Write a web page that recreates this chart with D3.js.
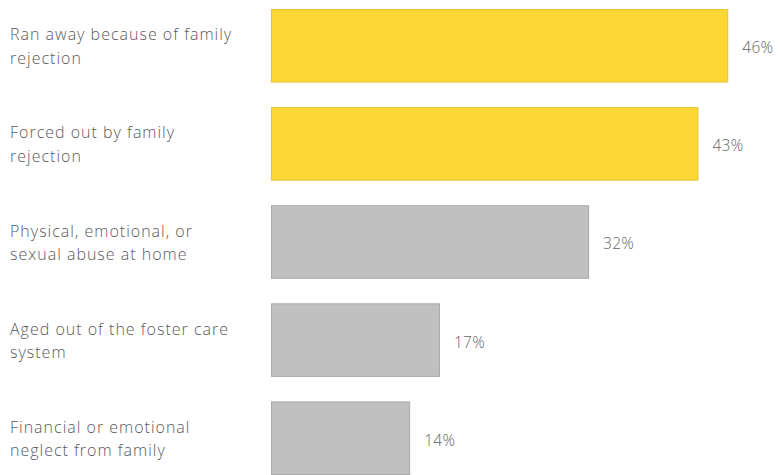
<!DOCTYPE html>
<html><head><meta charset="utf-8">
<script src="https://cdn.jsdelivr.net/npm/d3@7"></script>
<style>html,body{margin:0;padding:0;background:#fff;}</style>
</head><body>
<script>
const categories = [
  ["Ran away because of family", "rejection"],
  ["Forced out by family", "rejection"],
  ["Physical, emotional, or", "sexual abuse at home"],
  ["Aged out of the foster care", "system"],
  ["Financial or emotional", "neglect from family"]
];
const values = [46, 43, 32, 17, 14];
const highlighted = [true, true, false, false, false];

const W = 780, H = 475;
const svg = d3.select("body").append("svg").attr("width", W).attr("height", H);

const keys = categories.map((c, i) => i);
const y = d3.scaleBand().domain(keys).range([9, 475]).paddingInner(0.25).paddingOuter(0);
const x = d3.scaleLinear().domain([0, 50]).range([271, 768]);

const font = "'Open Sans', sans-serif";

svg.selectAll("rect.bar").data(values).join("rect")
  .attr("class", "bar")
  .attr("x", x(0) + 0.5)
  .attr("y", (d, i) => y(i) + 0.5)
  .attr("width", d => x(d) - x(0) - 1)
  .attr("height", y.bandwidth() - 1)
  .attr("fill", (d, i) => highlighted[i] ? "#fdd835" : "#c0c0c0")
  .attr("stroke", (d, i) => highlighted[i] ? "#e3c23a" : "#a9a9a9")
  .attr("stroke-width", 1);

svg.selectAll("text.val").data(values).join("text")
  .attr("class", "val")
  .attr("x", d => x(d) + 14)
  .attr("y", (d, i) => y(i) + y.bandwidth() / 2 + 2)
  .attr("dy", "0.35em")
  .attr("font-family", font)
  .attr("font-weight", 300)
  .attr("font-size", 15.5)
  .attr("letter-spacing", 0.3)
  .attr("fill", "#666")
  .text(d => d + "%");

const labels = svg.selectAll("text.cat").data(categories).join("text")
  .attr("class", "cat")
  .attr("font-family", font)
  .attr("font-weight", 300)
  .attr("font-size", 16)
  .attr("letter-spacing", 1)
  .attr("fill", "#5a5a5a");
labels.each(function(lines, i) {
  const t = d3.select(this);
  const cy = y(i) + y.bandwidth() / 2;
  lines.forEach((ln, j) => {
    t.append("tspan").attr("x", 10).attr("y", cy - 11 + j * 23.5).attr("dy", "0.35em").text(ln);
  });
});
</script>
</body></html>
